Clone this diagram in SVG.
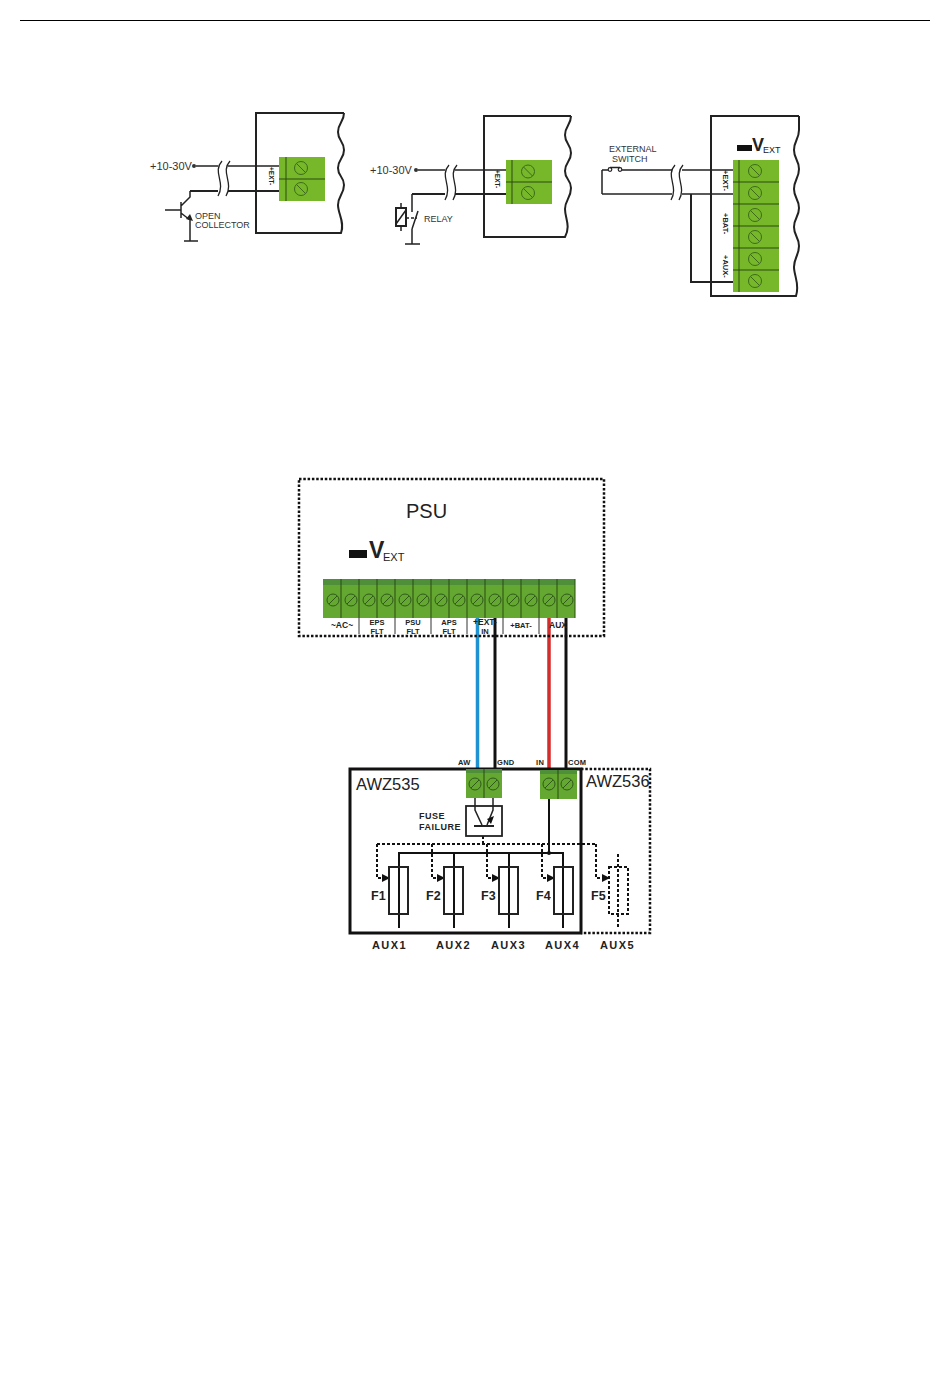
<svg xmlns="http://www.w3.org/2000/svg" xmlns:xlink="http://www.w3.org/1999/xlink" width="950" height="1387" viewBox="0 0 950 1387">
<style>
text{font-family:"Liberation Sans",Arial,sans-serif;fill:#222}
.w{fill:none;stroke:#222;stroke-width:1.5}
.t{fill:none;stroke:#222;stroke-width:2}
.h{fill:none;stroke:#111;stroke-width:3}
.b{fill:none;stroke:#111;stroke-width:2}
.d{fill:none;stroke:#111;stroke-width:2;stroke-dasharray:3 2}
.dd{fill:none;stroke:#111;stroke-width:2.500;stroke-dasharray:2.500 1.800}
.g{fill:#76b82a;stroke:none}
.g2{fill:#64a832;stroke:none}
.gh{fill:#4f8f3a;stroke:none}
.l{stroke:#2b4a10;stroke-width:1;fill:none}
.brk{fill:none;stroke:#222;stroke-width:1.300}
.blank{fill:#fff;stroke:none}
.s9{font-size:9px;fill:#333}.s11{font-size:11px;fill:#333}
.bd{font-weight:bold;fill:#222}
.r{font-size:7.500px;font-weight:bold}
.m{font-size:8.500px;font-weight:bold;text-anchor:middle}
.mm{font-size:7.500px;font-weight:bold;letter-spacing:.3px}
.f{font-size:12.500px;font-weight:bold}
.a{font-size:11px;font-weight:bold;letter-spacing:1.400px}
</style>
<defs>
<g id="sc"><circle r="6.500" fill="none" stroke="#3d6b1a" stroke-width="1"/><path d="M-4.500-4.500L4.500 4.500" stroke="#3d6b1a" stroke-width="1"/></g>
<g id="sc2"><circle r="6" fill="none" stroke="#2f5a1a" stroke-width="1"/><path d="M-4 4L4-4" stroke="#2f5a1a" stroke-width="1"/></g>
<marker id="ar" markerWidth="8" markerHeight="8" refX="7" refY="4" orient="auto" markerUnits="userSpaceOnUse"><path d="M0 0L8 4L0 8Z" fill="#111"/></marker>
</defs>

<path id="header-rule" d="M20 20.500H930" stroke="#000" stroke-width="1"/>

<g id="panel1">
<path class="t" d="M344 113H256V233H341C345 222 338 214 338 205C338 196 344 194 344 185C344 176 338 177 338 168C338 159 344 159 344 150C344 141 338 141 338 132C338 123 344 122 344 113"/>
</g>
<g id="block1">
<rect class="g" x="279" y="157" width="46" height="44"/>
<path class="l" d="M279 179H325M286 157V201"/>
<use xlink:href="#sc" x="301" y="168"/><use xlink:href="#sc" x="301" y="189"/>
<text class="r" transform="translate(269,167) rotate(90)" style="font-size:6.500px">+EXT-</text>
</g>
<g id="source1">
<circle cx="194" cy="166" r="2" fill="#333"/>
<text class="s11" x="150" y="170">+10-30V</text>
<path class="w" d="M165 210H181M181 202V218M181 206L190 197V191M181 213L190 220M190 220V241M184 241H198"/>
<path d="M193 221L186 219L190 214Z" fill="#222"/>
<text class="s9" x="195" y="219">OPEN</text>
<text class="s9" x="195" y="228">COLLECTOR</text>
</g>

<g id="panel2">
<path class="t" d="M571 116H484V237H565C571 226 565 218 565 209C565 200 571 198 571 188C571 179 565 180 565 171C565 162 571 162 571 153C571 144 565 144 565 135C565 126 571 125 571 116"/>
</g>
<g id="block2">
<rect class="g" x="506" y="160" width="46" height="44"/>
<path class="l" d="M506 182H552M512 160V204"/>
<use xlink:href="#sc" x="528" y="171.500"/><use xlink:href="#sc" x="528" y="193"/>
<text class="r" transform="translate(495,170) rotate(90)" style="font-size:6.500px">+EXT-</text>
</g>
<g id="source2">
<circle cx="416" cy="170" r="2" fill="#333"/>
<text class="s11" x="370" y="174">+10-30V</text>
<rect x="396" y="208" width="10" height="18" fill="none" stroke="#222" stroke-width="2"/>
<path class="w" d="M401 203V208M401 226V231M396 224L406 210"/>
<path class="w" d="M412 194V212M412 229L418 211M412 229V244M405 244H420"/>
<path class="w" d="M406 218H417" stroke-dasharray="3 2"/>
<text class="s9" x="424" y="222">RELAY</text>
</g>

<g id="panel3">
<path class="t" d="M799 116H711V296H796C800 284 794 276 794 267C794 258 799 255 799 246C799 237 794 236 794 227C794 218 799 217 799 208C799 199 794 198 794 189C794 180 799 178 799 169C799 160 794 159 794 150C794 141 799 139 799 130C799 124 799 120 799 116"/>
</g>
<g id="block3">
<rect class="g" x="733" y="160" width="46" height="132"/>
<path class="l" d="M733 182H779M733 204H779M733 226H779M733 248H779M733 270H779M739 160V292"/>
<use xlink:href="#sc" x="755" y="171"/><use xlink:href="#sc" x="755" y="193"/><use xlink:href="#sc" x="755" y="215"/><use xlink:href="#sc" x="755" y="237"/><use xlink:href="#sc" x="755" y="259"/><use xlink:href="#sc" x="755" y="281"/>
<text class="r" transform="translate(723,170) rotate(90)">+EXT-</text>
<text class="r" transform="translate(723,213) rotate(90)">+BAT-</text>
<text class="r" transform="translate(723,255) rotate(90)">+AUX-</text>
<rect x="737" y="145" width="15" height="6" fill="#111"/>
<text x="752" y="151" style="font-size:18px;font-weight:bold">V</text>
<text x="763" y="153" style="font-size:9px">EXT</text>
</g>
<g id="switch3">
<text class="s9" x="609" y="152">EXTERNAL</text>
<text class="s9" x="612" y="162">SWITCH</text>
<circle cx="610" cy="169.500" r="1.800" fill="#fff" stroke="#222" stroke-width="1.200"/>
<circle cx="620" cy="169.500" r="1.800" fill="#fff" stroke="#222" stroke-width="1.200"/>
<path class="w" d="M610 167.500H620"/>
</g>

<g id="connectors">
<path class="w" d="M196 166H279"/>
<path class="t" d="M190 191H279"/>
<path class="w" d="M418 170H506"/>
<path class="t" d="M412 194H506"/>
<path class="w" d="M602 170H608M622 170H733M602 170V194"/>
<path class="w" d="M602 194H733"/>
<path class="t" d="M691 194V282H733"/>
<g>
<path class="blank" d="M218 160H228V198H218Z"/>
<path class="brk" d="M222 161C212 172 226 182 218 196M230 161C220 172 234 182 226 196"/>
<path class="blank" d="M445 164H455V201H445Z"/>
<path class="brk" d="M449 165C439 176 453 186 445 200M457 165C447 176 461 186 453 200"/>
<path class="blank" d="M672 164H682V201H672Z"/>
<path class="brk" d="M675 165C665 176 679 186 671 200M683 165C673 176 687 186 679 200"/>
</g>
<path d="M477.500 618V768" fill="none" stroke="#1f93d2" stroke-width="3.500"/>
<path class="h" d="M495 618V768"/>
<path d="M549 618V768" fill="none" stroke="#d42b2b" stroke-width="3.500"/>
<path class="h" d="M566 618V768"/>
<path class="b" d="M549 799V853"/>
<circle cx="549" cy="853" r="2" fill="#111"/>
<path class="d" d="M483 836V844M377 844H596M377 844V878H389" marker-end="url(#ar)"/>
<path class="d" d="M432 844V878H444" marker-end="url(#ar)"/>
<path class="d" d="M487 844V878H499" marker-end="url(#ar)"/>
<path class="d" d="M542 844V878H554" marker-end="url(#ar)"/>
<path class="d" d="M596 844V878H609" marker-end="url(#ar)"/>
<path class="b" d="M399 928V853H563V928M454 853V928M509 853V928"/>
</g>

<g id="psu">
<rect class="dd" x="299" y="479" width="305" height="157"/>
<text x="406" y="518" style="font-size:20px">PSU</text>
<rect x="349" y="550" width="18" height="8" fill="#111"/>
<text x="369" y="558" style="font-size:23px;font-weight:bold">V</text>
<text x="383" y="561" style="font-size:11px">EXT</text>
</g>
<g id="psu-terminals">
<rect class="g2" x="323" y="579" width="252" height="39"/>
<rect class="gh" x="323" y="579" width="252" height="6"/>
<path class="l" d="M341 579V618M359 579V618M377 579V618M395 579V618M413 579V618M431 579V618M449 579V618M467 579V618M485 579V618M503 579V618M521 579V618M539 579V618M557 579V618M575 579V618"/>
<path d="M359 618V634M395 618V634M431 618V634M467 618V634M503 618V634M539 618V634" stroke="#333" stroke-width="1"/>
<use xlink:href="#sc2" x="333" y="600"/><use xlink:href="#sc2" x="351" y="600"/><use xlink:href="#sc2" x="369" y="600"/><use xlink:href="#sc2" x="387" y="600"/><use xlink:href="#sc2" x="405" y="600"/><use xlink:href="#sc2" x="423" y="600"/><use xlink:href="#sc2" x="441" y="600"/><use xlink:href="#sc2" x="459" y="600"/><use xlink:href="#sc2" x="477" y="600"/><use xlink:href="#sc2" x="495" y="600"/><use xlink:href="#sc2" x="513" y="600"/><use xlink:href="#sc2" x="531" y="600"/><use xlink:href="#sc2" x="549" y="600"/><use xlink:href="#sc2" x="567" y="600"/>
<text class="m" x="342" y="628">~AC~</text>
<text class="m" x="377" y="625" style="font-size:7.500px">EPS</text><text class="m" x="377" y="634" style="font-size:7.500px">FLT</text>
<text class="m" x="413" y="625" style="font-size:7.500px">PSU</text><text class="m" x="413" y="634" style="font-size:7.500px">FLT</text>
<text class="m" x="449" y="625" style="font-size:7.500px">APS</text><text class="m" x="449" y="634" style="font-size:7.500px">FLT</text>
<text class="m" x="485" y="625">+EXT-</text><text class="m" x="485" y="634" style="font-size:7.500px">IN</text>
<text class="m" x="521" y="628" style="font-size:7.500px">+BAT-</text>
<text class="m" x="558" y="628">AUX</text>
</g>

<g id="awz536">
<path class="dd" d="M581 769H650V933H581"/>
<text x="586" y="787" style="font-size:16.500px">AWZ536</text>
<rect x="609" y="867" width="19" height="47" class="d"/>
<path class="d" d="M618 854V928"/>
<text class="f" x="591" y="900">F5</text>
<text class="a" x="600" y="949">AUX5</text>
</g>

<g id="awz535">
<rect x="350" y="769" width="231" height="164" fill="none" stroke="#111" stroke-width="3"/>
<text x="356" y="790" style="font-size:16.500px">AWZ535</text>
<text class="mm" x="458" y="765">AW</text>
<text class="mm" x="497" y="765">GND</text>
<text class="mm" x="536" y="765">IN</text>
<text class="mm" x="568" y="765">COM</text>
<rect class="g2" x="466" y="769" width="36" height="29"/>
<rect class="gh" x="466" y="769" width="36" height="4"/>
<rect class="g2" x="540" y="770" width="37" height="29"/>
<rect class="gh" x="540" y="770" width="37" height="4"/>
<path class="l" d="M484 769V798M558 770V799"/>
<use xlink:href="#sc2" x="475" y="784"/><use xlink:href="#sc2" x="493" y="784"/><use xlink:href="#sc2" x="549" y="784"/><use xlink:href="#sc2" x="567" y="784"/>
</g>
<g id="fuse-failure">
<rect x="466" y="806" width="36" height="30" fill="#fff" stroke="#222" stroke-width="1.800"/>
<path class="w" d="M475 798V810L482 825M493 798V810L487 825"/>
<path class="t" d="M474 826H494"/>
<path d="M494 816L487 819L491 824Z" fill="#111"/>
<text class="s9 bd" x="419" y="819" style="letter-spacing:.5px">FUSE</text>
<text class="s9 bd" x="419" y="830" style="letter-spacing:.5px">FAILURE</text>
</g>
<g id="fuse1"><rect x="389" y="867" width="19" height="47" fill="none" stroke="#222" stroke-width="2"/><text class="f" x="371" y="900">F1</text><text class="a" x="372" y="949">AUX1</text></g>
<g id="fuse2"><rect x="444" y="867" width="19" height="47" fill="none" stroke="#222" stroke-width="2"/><text class="f" x="426" y="900">F2</text><text class="a" x="436" y="949">AUX2</text></g>
<g id="fuse3"><rect x="499" y="867" width="19" height="47" fill="none" stroke="#222" stroke-width="2"/><text class="f" x="481" y="900">F3</text><text class="a" x="491" y="949">AUX3</text></g>
<g id="fuse4"><rect x="554" y="867" width="19" height="47" fill="none" stroke="#222" stroke-width="2"/><text class="f" x="536" y="900">F4</text><text class="a" x="545" y="949">AUX4</text></g>
</svg>
